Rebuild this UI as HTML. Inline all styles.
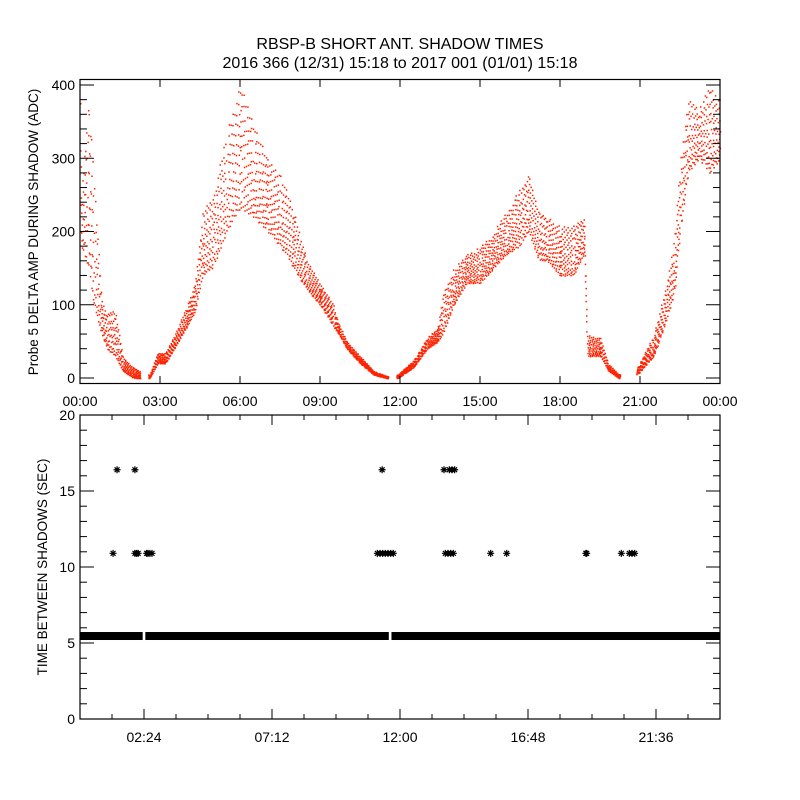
<!DOCTYPE html>
<html><head><meta charset="utf-8"><style>
body{margin:0;background:#fff}
svg{display:block}
text{font-family:"Liberation Sans",sans-serif;fill:#000}
</style></head><body>
<svg id="c" width="800" height="800" viewBox="0 0 800 800">
<rect width="800" height="800" fill="#fff"/>
<text x="400" y="49" font-size="16" text-anchor="middle">RBSP-B SHORT ANT. SHADOW TIMES</text>
<text x="400" y="68" font-size="16" text-anchor="middle">2016 366 (12/31) 15:18 to 2017 001 (01/01) 15:18</text>
<g id="topPanel"></g>
<g id="botPanel"></g>
</svg>
<script>
// ---- top panel data: envelope of red scatter (hour, low, high)
const ampHours=[0,0.05,0.3,0.5,0.8,1.0,1.3,1.6,2.0,2.25,2.6,2.9,3.2,3.6,4.0,4.3,4.6,5.0,5.5,6.0,6.5,7.0,7.5,8.0,8.5,9.0,9.5,9.7,10.0,10.5,11.0,11.5,11.9,12.5,13.0,13.4,13.6,14.0,14.5,15.0,15.5,16.0,16.5,16.8,17.2,17.5,18.0,18.5,18.9,19.0,19.5,19.8,20.2,20.9,21.5,22.0,22.3,22.5,22.8,23.2,23.6,24.0];
const ampLow =[200,180,150,100,60,40,30,10,0,0,0,20,20,45,70,90,140,150,200,230,220,200,180,150,120,100,70,60,40,20,5,0,0,15,40,50,60,100,130,130,150,170,180,200,160,160,140,140,170,30,30,10,0,5,30,80,120,200,280,300,280,300];
const ampHigh=[400,260,400,300,110,90,100,30,15,10,5,35,35,65,100,130,230,250,340,400,350,300,280,230,160,130,100,75,50,30,10,3,5,25,55,70,120,150,170,180,200,230,260,280,230,220,210,210,220,60,55,20,5,15,60,130,200,300,380,370,400,380];
const ampGaps=[[2.25,2.55],[11.55,11.85],[20.25,20.85]];
const topTicks=["00:00","03:00","06:00","09:00","12:00","15:00","18:00","21:00","00:00"];
const topYTicks=[0,100,200,300,400];
// ---- bottom panel data
const baseValue=5.46;
const baseSegments=[[0,2.35],[2.45,11.58],[11.68,24]];
const outlierHours=[1.24,2.06,2.12,2.18,2.5,2.55,2.62,2.7,11.15,11.25,11.35,11.45,11.55,11.65,11.75,13.7,13.8,13.9,14.0,15.4,16.0,18.97,19.0,20.3,20.6,20.7,20.8,1.39,2.06,11.33,13.65,13.85,13.95,14.05];
const outlierValues=[10.9,10.9,10.9,10.9,10.9,10.9,10.9,10.9,10.9,10.9,10.9,10.9,10.9,10.9,10.9,10.9,10.9,10.9,10.9,10.9,10.9,10.9,10.9,10.9,10.9,10.9,10.9,16.4,16.4,16.4,16.4,16.4,16.4,16.4];
const botTicks=["02:24","07:12","12:00","16:48","21:36"];
const botYTicks=[0,5,10,15,20];

const NS="http://www.w3.org/2000/svg";
function mk(p,t,a){const e=document.createElementNS(NS,t);for(const k in a)e.setAttribute(k,a[k]);p.appendChild(e);return e;}
const L=80,R=720;
const xT=h=>L+h/24*(R-L);
const T0=378,T400=85;
const yT=v=>T0+(T400-T0)*v/400;
const topG=document.getElementById('topPanel');
let d="";
const A1=0.7548776662,A2=0.5698402910;
for(let i=0;i<ampHours.length-1;i++){
  const h0=ampHours[i],h1=ampHours[i+1];
  const n=Math.max(2,Math.round((h1-h0)*160));
  for(let k=0;k<n;k++){
    const f=(0.5+k*A1+i*0.13)%1,h=h0+(h1-h0)*f;
    if(ampGaps.some(g=>h>g[0]&&h<g[1]))continue;
    const lo=ampLow[i]+(ampLow[i+1]-ampLow[i])*f,hi=ampHigh[i]+(ampHigh[i+1]-ampHigh[i])*f;
    const u=(0.5+k*A2+i*0.29)%1, w=Math.pow(u,1.3);
    const v=lo+(hi-lo)*w;
    const px=xT(h),py=Math.max(80,yT(v));
    d+=`M${px.toFixed(1)} ${py.toFixed(1)}h1.5v1.5h-1.5z`;
  }
}
const sc=mk(topG,'path',{d:d,fill:'#ff2200'});


const tb=mk(topG,'rect',{x:L,y:79.5,width:R-L,height:304,fill:'none',stroke:'#000','stroke-width':1.2});


topTicks.forEach((t,i)=>{const x=xT(i*3);
  mk(topG,'line',{x1:x,x2:x,y1:383,y2:376,stroke:'#000'});
  mk(topG,'line',{x1:x,x2:x,y1:80,y2:87,stroke:'#000'});
  const e=mk(topG,'text',{x:x,y:406,'font-size':14,'text-anchor':'middle'});e.textContent=t;
  
  
});
for(let v=0;v<=400;v+=20){const y=yT(v),len=v%100===0?14:7;
  mk(topG,'line',{x1:L,x2:L+len,y1:y,y2:y,stroke:'#000'});
  mk(topG,'line',{x1:R,x2:R-len,y1:y,y2:y,stroke:'#000'});}
topYTicks.forEach(v=>{const e=mk(topG,'text',{x:75,y:yT(v)+5,'font-size':14,'text-anchor':'end'});e.textContent=v;
  
  });
const ty=mk(topG,'text',{x:0,y:0,'font-size':13.5,'text-anchor':'middle',transform:'translate(38,232) rotate(-90)'});
ty.textContent="Probe 5 DELTA AMP DURING SHADOW (ADC)";



const B0=719,B20=415;
const yB=v=>B0+(B20-B0)*v/20;
const botG=document.getElementById('botPanel');
baseSegments.forEach(s=>{
  const r=mk(botG,'rect',{x:xT(s[0]),y:yB(baseValue)-4,width:xT(s[1])-xT(s[0]),height:8,fill:'#000'});
  
  
});
outlierHours.forEach((h,i)=>{
  const x=xT(h),y=yB(outlierValues[i]),s=3.5;
  const g=mk(botG,'path',{d:`M${x-s} ${y}H${x+s}M${x} ${y-s}V${y+s}M${x-s*.7} ${y-s*.7}L${x+s*.7} ${y+s*.7}M${x-s*.7} ${y+s*.7}L${x+s*.7} ${y-s*.7}`,stroke:'#000','stroke-width':1.2,fill:'none'});
  
  
});
const bb=mk(botG,'rect',{x:L,y:415,width:R-L,height:304,fill:'none',stroke:'#000','stroke-width':1.2});


for(let k=0;k<=20;k++){const x=L+k*32,len=k%4===2?10:5;
  mk(botG,'line',{x1:x,x2:x,y1:719,y2:719-len,stroke:'#000'});
  mk(botG,'line',{x1:x,x2:x,y1:415,y2:415+len,stroke:'#000'});}
botTicks.forEach((t,i)=>{const e=mk(botG,'text',{x:L+64+i*128,y:742,'font-size':14,'text-anchor':'middle'});e.textContent=t;
  
  });
for(let v=0;v<=20;v++){const y=yB(v),len=v%5===0?14:7;
  mk(botG,'line',{x1:L,x2:L+len,y1:y,y2:y,stroke:'#000'});
  mk(botG,'line',{x1:R,x2:R-len,y1:y,y2:y,stroke:'#000'});}
botYTicks.forEach(v=>{const e=mk(botG,'text',{x:75,y:yB(v)+5,'font-size':14,'text-anchor':'end'});e.textContent=v;
  
  });
const by=mk(botG,'text',{x:0,y:0,'font-size':13.5,'text-anchor':'middle',transform:'translate(47,567) rotate(-90)'});
by.textContent="TIME BETWEEN SHADOWS (SEC)";


</script>
</body></html>
